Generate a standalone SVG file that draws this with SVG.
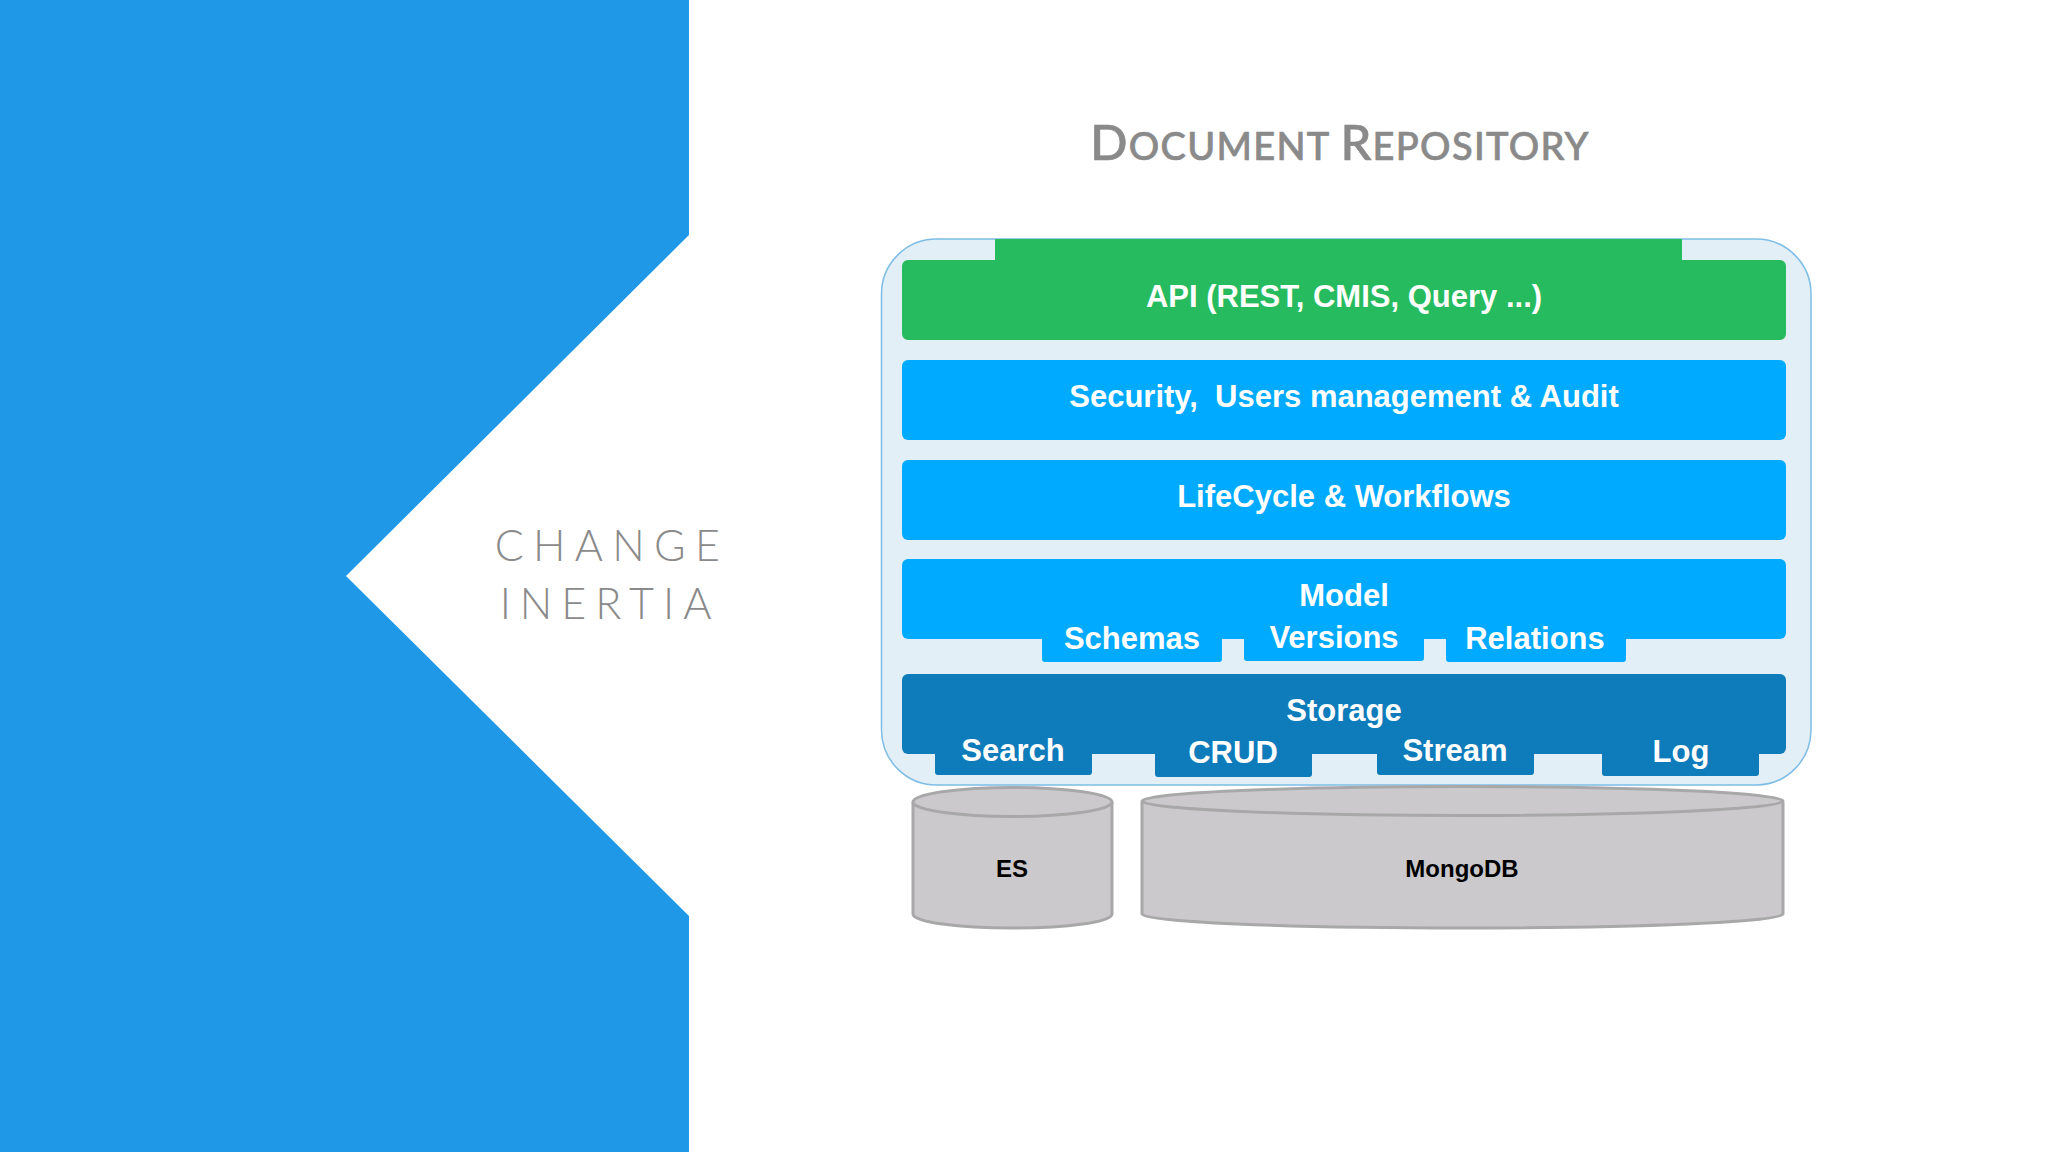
<svg xmlns="http://www.w3.org/2000/svg" width="2048" height="1152" viewBox="0 0 2048 1152">
<style>
.l{font-family:"Liberation Sans",Arial,sans-serif;font-weight:700;font-size:31px;fill:#fff;text-anchor:middle}
.d{font-family:"Liberation Sans",Arial,sans-serif;font-weight:700;font-size:24px;fill:#000;text-anchor:middle}
.g{fill:#27bb60}.b{fill:#00aaff}.s{fill:#0e7bbb}
.c{fill:#cbc9cc;stroke:#a9a8a8;stroke-width:3}
.h{font-family:Lato,"Liberation Sans",sans-serif;fill:#8a8a8a;text-anchor:middle}
</style>
<rect width="2048" height="1152" fill="#fff"/>
<g id="chevron"><path d="M0 0H689V235L346 576L689 916V1152H0Z" fill="#1f99e7"/></g>
<g id="side-label" class="h" font-weight="300" font-size="43">
<text x="612" y="561" letter-spacing="9.3">CHANGE</text>
<text x="610" y="619" letter-spacing="9">INERTIA</text>
</g>
<g id="title"><text class="h" x="1340" y="160" font-size="38" font-weight="500" letter-spacing="1.3" stroke="#8a8a8a" stroke-width="0.7"><tspan font-size="49">D</tspan>OCUMENT <tspan font-size="49">R</tspan>EPOSITORY</text></g>
<g id="repository"><rect x="881.500" y="239" width="929.500" height="546" rx="55" fill="#e3eff7" stroke="#7dbde6" stroke-width="1.500"/></g>
<g id="api"><path class="g" d="M995 239H1682V260H1780a6 6 0 0 1 6 6V334a6 6 0 0 1-6 6H908a6 6 0 0 1-6-6V266a6 6 0 0 1 6-6H995Z"/><text class="l" x="1344" y="307">API (REST, CMIS, Query ...)</text></g>
<g id="security"><rect class="b" x="902" y="360" width="884" height="80" rx="6"/><text class="l" x="1344" y="407" xml:space="preserve">Security,  Users management &amp; Audit</text></g>
<g id="lifecycle"><rect class="b" x="902" y="460" width="884" height="80" rx="6"/><text class="l" x="1344" y="507">LifeCycle &amp; Workflows</text></g>
<g id="model"><rect class="b" x="902" y="559" width="884" height="80" rx="6"/><rect class="b" x="1042" y="629" width="180" height="33" rx="3"/><rect class="b" x="1244" y="629" width="180" height="32" rx="3"/><rect class="b" x="1446" y="629" width="180" height="33" rx="3"/><text class="l" x="1344" y="606">Model</text><text class="l" x="1132" y="649">Schemas</text><text class="l" x="1334" y="648">Versions</text><text class="l" x="1535" y="649">Relations</text></g>
<g id="storage"><rect class="s" x="902" y="674" width="884" height="80" rx="6"/><rect class="s" x="935" y="744" width="157" height="31" rx="3"/><rect class="s" x="1155" y="744" width="157" height="33" rx="3"/><rect class="s" x="1377" y="744" width="157" height="31" rx="3"/><rect class="s" x="1602" y="744" width="157" height="32" rx="3"/><text class="l" x="1344" y="721">Storage</text><text class="l" x="1013" y="761">Search</text><text class="l" x="1233" y="763">CRUD</text><text class="l" x="1455" y="761">Stream</text><text class="l" x="1681" y="762">Log</text></g>
<g id="es"><path class="c" d="M913 802V914C913 922 958 928 1012.500 928S1112 922 1112 914V802"/><ellipse class="c" cx="1012.500" cy="802" rx="99.500" ry="14.500"/><text class="d" x="1012" y="877">ES</text></g>
<g id="mongodb"><path class="c" d="M1142 802V914C1142 922 1288 928 1462.500 928S1783 922 1783 914V802"/><ellipse class="c" cx="1462.500" cy="801" rx="320.500" ry="14.500"/><text class="d" x="1462" y="877">MongoDB</text></g>
</svg>
